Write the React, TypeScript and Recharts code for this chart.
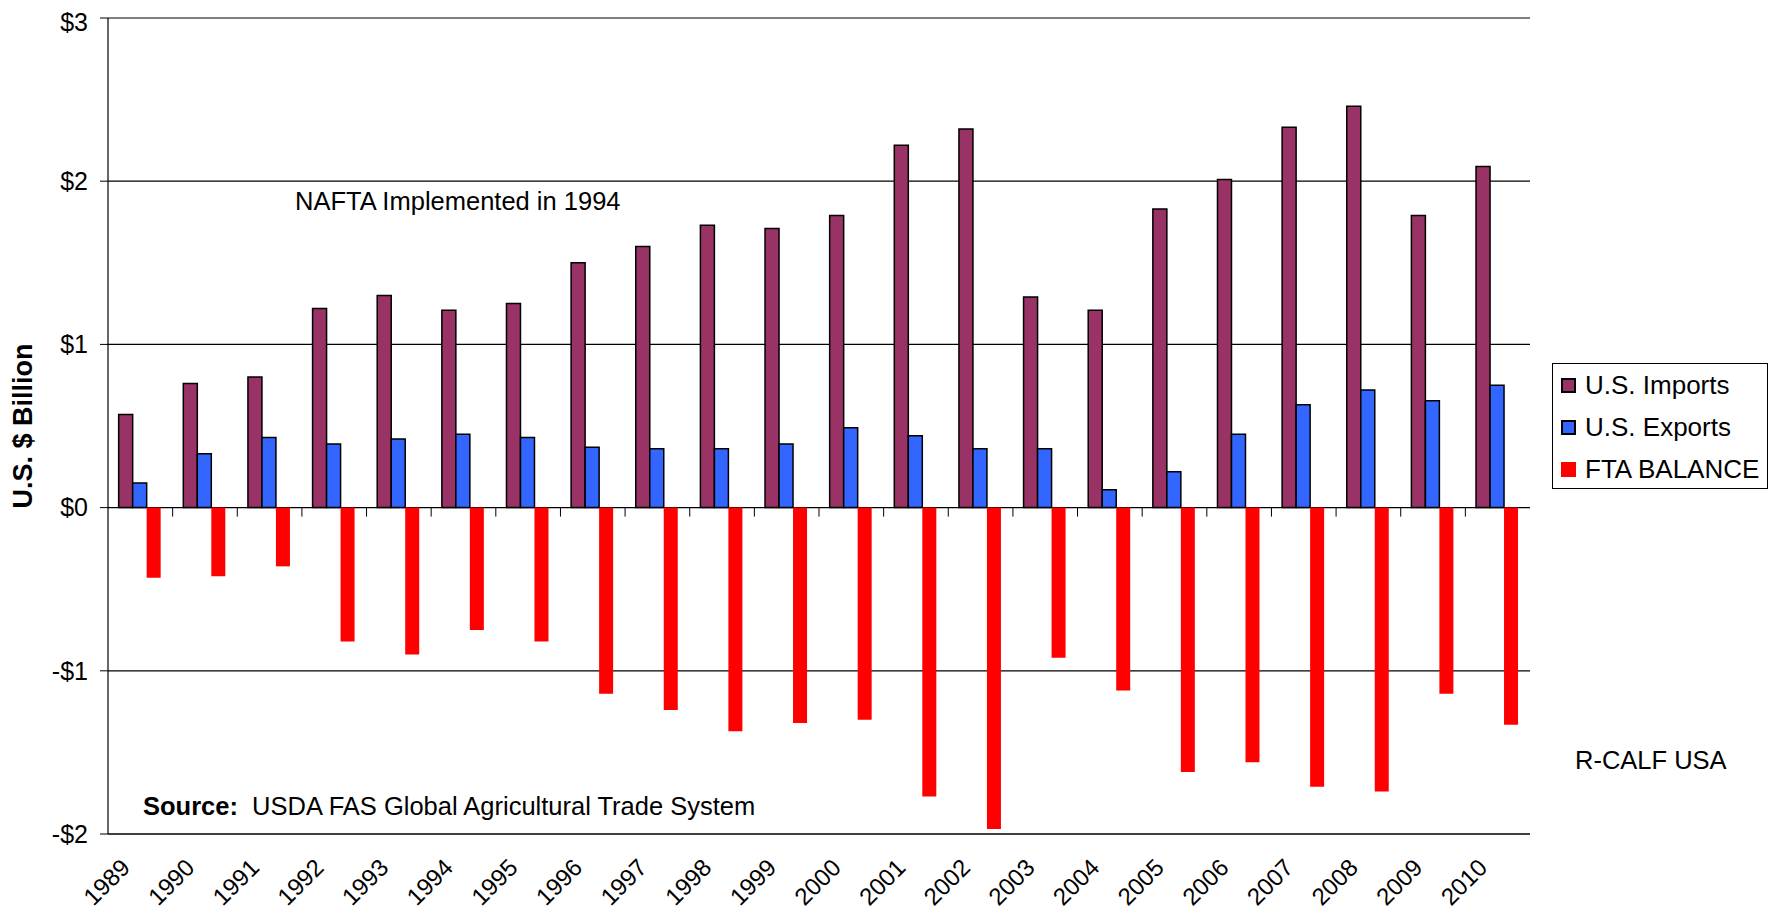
import { BarChart, Bar, XAxis, YAxis, CartesianGrid, ReferenceLine, Label } from 'recharts';

const YEARS = [
  '1989', '1990', '1991', '1992', '1993', '1994', '1995', '1996', '1997', '1998', '1999',
  '2000', '2001', '2002', '2003', '2004', '2005', '2006', '2007', '2008', '2009', '2010'
];

// U.S. $ billion
const IMPORTS = [
  0.57, 0.76, 0.8, 1.22, 1.3, 1.21, 1.25, 1.5, 1.6, 1.73, 1.71,
  1.79, 2.22, 2.32, 1.29, 1.21, 1.83, 2.01, 2.33, 2.46, 1.79, 2.09
];
const EXPORTS = [
  0.15, 0.33, 0.43, 0.39, 0.42, 0.45, 0.43, 0.37, 0.36, 0.36, 0.39,
  0.49, 0.44, 0.36, 0.36, 0.11, 0.22, 0.45, 0.63, 0.72, 0.655, 0.75
];
const BALANCE = [
  -0.43, -0.42, -0.36, -0.82, -0.9, -0.75, -0.82, -1.14, -1.24, -1.37, -1.32,
  -1.3, -1.77, -1.97, -0.92, -1.12, -1.62, -1.56, -1.71, -1.74, -1.14, -1.33
];
const Y_TICKS = [-2, -1, 0, 1, 2, 3];

const FONT = '"Liberation Sans", Arial, Helvetica, sans-serif';

const SERIES = [
  { key: 'imports', name: 'U.S. Imports', color: '#993366', outlined: true },
  { key: 'exports', name: 'U.S. Exports', color: '#3366FF', outlined: true },
  { key: 'balance', name: 'FTA BALANCE', color: '#FF0000', outlined: false }
];

const data = YEARS.map((year, i) => ({
  year,
  imports: IMPORTS[i],
  exports: EXPORTS[i],
  balance: BALANCE[i]
}));

const money = (v: number) => (v < 0 ? `-$${-v}` : `$${v}`);

function YearTick({ x, y, payload }: any) {
  return (
    <g transform={`translate(${x},${y})`}>
      <text
        x={-9}
        y={35}
        transform="rotate(-45 -9 35)"
        textAnchor="end"
        fill="#000"
        fontSize={24}
        fontFamily={FONT}
      >
        {payload.value}
      </text>
    </g>
  );
}

function AxisTitle({ viewBox }: any) {
  const cy = viewBox.y + viewBox.height / 2;
  return (
    <text
      x={15}
      y={cy}
      transform={`rotate(-90 15 ${cy})`}
      textAnchor="middle"
      dominantBaseline="central"
      fontWeight="bold"
      fontSize={27}
      fontFamily={FONT}
      fill="#000"
    >
      U.S. $ Billion
    </text>
  );
}

const note = (left: number, top: number): React.CSSProperties => ({
  position: 'absolute',
  left,
  top,
  fontSize: 25.5,
  lineHeight: '25.5px',
  whiteSpace: 'nowrap',
  color: '#000'
});

export default function App() {
  return (
    <div style={{ position: 'relative', width: 1760, height: 906, fontFamily: FONT }}>
      <BarChart
        width={1760}
        height={906}
        data={data}
        margin={{ top: 10, right: 238, bottom: 10, left: 0 }}
        barCategoryGap="16.5%"
        barGap={0}
        style={{ overflow: 'visible' }}
      >
        <CartesianGrid vertical={false} stroke="#000" strokeWidth={1.2} />
        <XAxis
          dataKey="year"
          height={70}
          tickLine={false}
          tickSize={0}
          tickMargin={0}
          axisLine={{ stroke: '#000', strokeWidth: 1.2 }}
          tick={<YearTick />}
          interval={0}
        />
        <YAxis
          width={100}
          domain={[-2, 3]}
          ticks={Y_TICKS}
          tickFormatter={money}
          tickSize={8}
          tickMargin={12}
          tickLine={{ stroke: '#000' }}
          axisLine={{ stroke: '#000', strokeWidth: 1.2 }}
          tick={{ fill: '#000', fontSize: 25, fontFamily: FONT }}
        >
          <Label content={<AxisTitle />} />
        </YAxis>
        <ReferenceLine x="2010" position="end" stroke="#000" strokeWidth={1.2} />
        {YEARS.slice(1).map((y) => (
          <ReferenceLine
            key={`tick-${y}`}
            position="start"
            segment={[{ x: y, y: 0 }, { x: y, y: -0.055 }]}
            stroke="#000"
          />
        ))}
        {SERIES.map((s) => (
          <Bar
            key={s.key}
            dataKey={s.key}
            name={s.name}
            fill={s.color}
            stroke={s.outlined ? '#000' : 'none'}
            strokeWidth={s.outlined ? 1.5 : 0}
            isAnimationActive={false}
          />
        ))}
      </BarChart>

      <div style={note(287, 181)}>NAFTA Implemented in 1994</div>
      <div style={note(135, 786)}>
        <b>Source:</b>&nbsp; USDA FAS Global Agricultural Trade System
      </div>
      <div style={note(1567, 740)}>R-CALF USA</div>

      <div
        style={{
          position: 'absolute',
          left: 1544,
          top: 355,
          width: 216,
          height: 126,
          boxSizing: 'border-box',
          border: '1px solid #000',
          background: '#fff',
          paddingTop: 0,
          paddingLeft: 8
        }}
      >
        {SERIES.map((s) => (
          <div key={s.key} style={{ display: 'flex', alignItems: 'center', height: 42 }}>
            <span
              style={{
                display: 'inline-block',
                width: 15,
                height: 15,
                boxSizing: 'border-box',
                background: s.color,
                border: s.outlined ? '2px solid #000' : 'none',
                marginRight: 9
              }}
            />
            <span style={{ fontSize: 26, lineHeight: '26px', whiteSpace: 'nowrap' }}>{s.name}</span>
          </div>
        ))}
      </div>
    </div>
  );
}
